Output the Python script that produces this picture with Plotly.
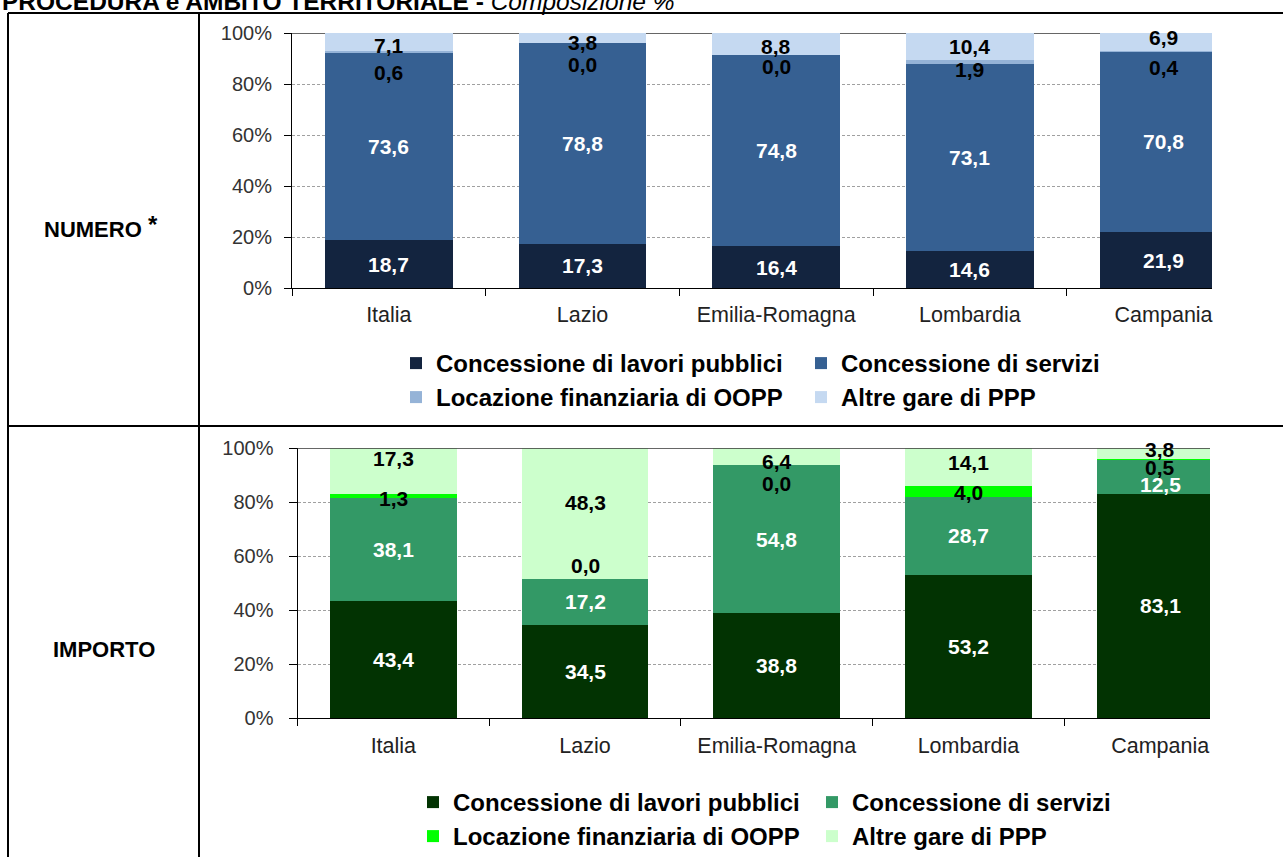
import plotly.graph_objects as go

# ---------------- DATA ----------------
regions = ["Italia", "Lazio", "Emilia-Romagna", "Lombardia", "Campania"]
series_names = ["Concessione di lavori pubblici", "Concessione di servizi",
                "Locazione finanziaria di OOPP", "Altre gare di PPP"]

numero_lavori = [18.7, 17.3, 16.4, 14.6, 21.9]
numero_servizi = [73.6, 78.8, 74.8, 73.1, 70.8]
numero_locazione = [0.6, 0.0, 0.0, 1.9, 0.4]
numero_altre = [7.1, 3.8, 8.8, 10.4, 6.9]

importo_lavori = [43.4, 34.5, 38.8, 53.2, 83.1]
importo_servizi = [38.1, 17.2, 54.8, 28.7, 12.5]
importo_locazione = [1.3, 0.0, 0.0, 4.0, 0.5]
importo_altre = [17.3, 48.3, 6.4, 14.1, 3.8]

y_tick_values = [0, 20, 40, 60, 80, 100]
y_tick_labels = ["0%", "20%", "40%", "60%", "80%", "100%"]

title_bold = "PROCEDURA e AMBITO TERRITORIALE - "
title_italic = "Composizione %"
row_labels = ["NUMERO", "IMPORTO"]
footnote_mark = "*"

# ---------------- STYLE ----------------
W, H = 1283, 857
FONT = "Liberation Sans, Arial, sans-serif"
blue_colors = ["#13243F", "#366092", "#95B3D7", "#C5D9F1"]
green_colors = ["#023302", "#339966", "#00FF00", "#CCFFCC"]
label_colors = ["white", "white", "black", "black"]
# pixel nudges of the value labels (per series, per region), positive = up
nudge_numero = [[0, 0, 0, 0, 0], [0, 0, 0, 0, 0],
                [-21, -22, -11, -8, -16], [-3, -4, -2, 0, 4]]
nudge_importo = [[0, 0, 0, 0, 0], [0, 0, 0, 0, -8],
                 [-2, 13, -18, -1, -8], [13, 11, -5, 5, 4]]


def px_x(p):
    return p / W


def px_y(p):
    return 1 - p / H


def fmt(v):
    return f"{v:.1f}".replace(".", ",")


fig = go.Figure()

# each legend row is its own legend (two entries per row, as in the reference)
panels = [
    dict(data=[numero_lavori, numero_servizi, numero_locazione, numero_altre],
         colors=blue_colors, xa="x", ya="y", legends=["legend", "legend", "legend2", "legend2"],
         nudge=nudge_numero),
    dict(data=[importo_lavori, importo_servizi, importo_locazione, importo_altre],
         colors=green_colors, xa="x2", ya="y2", legends=["legend3", "legend3", "legend4", "legend4"],
         nudge=nudge_importo),
]

annotations = []
for panel in panels:
    base = [0.0] * len(regions)
    for si, (name, vals) in enumerate(zip(series_names, panel["data"])):
        fig.add_trace(go.Bar(
            x=regions, y=vals, name=name,
            marker=dict(color=panel["colors"][si], line=dict(width=0)),
            xaxis=panel["xa"], yaxis=panel["ya"], legend=panel["legends"][si],
            hoverinfo="skip",
        ))
        for ri, v in enumerate(vals):
            annotations.append(dict(
                x=regions[ri], y=base[ri] + v / 2,
                xref=panel["xa"], yref=panel["ya"],
                text=fmt(v), showarrow=False,
                yshift=panel["nudge"][si][ri],
                font=dict(family=FONT, size=21, color=label_colors[si], weight="bold"),
            ))
            base[ri] += v

# title (clipped at top of the page)
annotations.append(dict(
    x=0, y=px_y(17), xref="paper", yref="paper", xanchor="left", yanchor="bottom",
    text=f"<b>{title_bold}</b><i>{title_italic}</i>", showarrow=False,
    font=dict(family=FONT, size=24.5, color="black"),
))
# row labels
annotations.append(dict(
    x=px_x(92.5), y=px_y(230), xref="paper", yref="paper", xanchor="center", yanchor="middle",
    text=f"<b>{row_labels[0]}</b>", showarrow=False,
    font=dict(family=FONT, size=22, color="black"),
))
annotations.append(dict(
    x=px_x(152.5), y=px_y(224), xref="paper", yref="paper", xanchor="center", yanchor="middle",
    text=f"<b>{footnote_mark}</b>", showarrow=False,
    font=dict(family=FONT, size=24, color="black"),
))
annotations.append(dict(
    x=px_x(103.5), y=px_y(649), xref="paper", yref="paper", xanchor="center", yanchor="middle",
    text=f"<b>{row_labels[1]}</b>", showarrow=False,
    font=dict(family=FONT, size=22, color="black"),
))

# table borders
line = dict(color="black", width=2)
shapes = [
    dict(type="line", xref="paper", yref="paper", x0=px_x(8), x1=1.0, y0=px_y(13), y1=px_y(13), line=line),
    dict(type="line", xref="paper", yref="paper", x0=px_x(8), x1=1.0, y0=px_y(426), y1=px_y(426), line=line),
    dict(type="line", xref="paper", yref="paper", x0=px_x(8), x1=px_x(8), y0=px_y(13), y1=0, line=line),
    dict(type="line", xref="paper", yref="paper", x0=px_x(199), x1=px_x(199), y0=px_y(13), y1=0, line=line),
    # top frame of each plot area
    dict(type="line", xref="x domain", yref="y", x0=0, x1=1, y0=100, y1=100,
         line=dict(color="#333333", width=1.5), layer="below"),
    dict(type="line", xref="x2 domain", yref="y2", x0=0, x1=1, y0=100, y1=100,
         line=dict(color="#333333", width=1.5), layer="above"),
]

xcommon = dict(type="category", showline=True, linecolor="black", linewidth=1,
               ticks="outside", tickson="boundaries", ticklen=7, tickcolor="black",
               showgrid=False, automargin=False,
               tickfont=dict(family=FONT, size=21.5, color="#222222"))
ycommon = dict(range=[0, 100], tickmode="array", tickvals=y_tick_values, ticktext=y_tick_labels,
               showline=True, linecolor="black", linewidth=1,
               ticks="outside", tickcolor="black",
               showgrid=True, gridcolor="#A0A0A0", griddash="3px,2px", gridwidth=1,
               zeroline=False, automargin=False,
               tickfont=dict(family=FONT, size=20, color="#333333"))

legend_common = dict(orientation="h", xanchor="left", yanchor="top",
                     traceorder="normal", entrywidthmode="pixels",
                     bgcolor="rgba(0,0,0,0)",
                     font=dict(family=FONT, size=24, color="black", weight="bold"))

fig.update_layout(
    template="none",
    width=W, height=H, margin=dict(l=0, r=0, t=0, b=0, autoexpand=False),
    paper_bgcolor="white", plot_bgcolor="white",
    barmode="stack", bargap=0.34,
    xaxis=dict(domain=[px_x(292), px_x(1212)], range=[-0.5, 4.25], anchor="y",
               ticklabelstandoff=7, **xcommon),
    yaxis=dict(domain=[px_y(288), px_y(33)], anchor="x", ticklen=7, ticklabelstandoff=8, **ycommon),
    xaxis2=dict(domain=[px_x(297.5), px_x(1210)], range=[-0.5, 4.26], anchor="y2",
                ticklabelstandoff=8, **xcommon),
    yaxis2=dict(domain=[px_y(718.3), px_y(448)], anchor="x2", ticklen=8, ticklabelstandoff=11, **ycommon),
    legend=dict(x=px_x(396), y=px_y(341), entrywidth=360, **legend_common),
    legend2=dict(x=px_x(396), y=px_y(375), entrywidth=360, **legend_common),
    legend3=dict(x=px_x(413), y=px_y(780), entrywidth=354, **legend_common),
    legend4=dict(x=px_x(413), y=px_y(814), entrywidth=354, **legend_common),
    annotations=annotations, shapes=shapes,
    showlegend=True,
)

fig.write_html("out.html", config={"displayModeBar": False},
               post_script="document.body.style.margin='0';document.body.style.overflow='hidden';")
